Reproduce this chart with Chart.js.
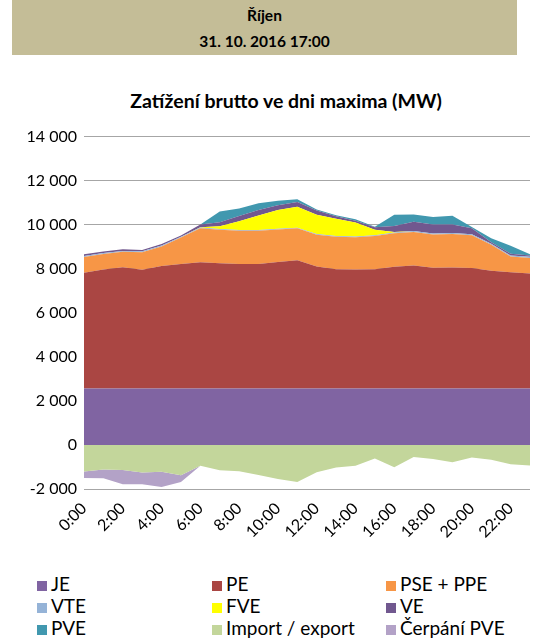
<!DOCTYPE html>
<html lang="cs">
<head>
<meta charset="utf-8">
<title>Zatížení brutto</title>
<script src="https://cdn.jsdelivr.net/npm/chart.js@4.4.0/dist/chart.umd.min.js"></script>
<style>
  body { margin: 0; width: 549px; height: 642px; background: #fff; font-family: Lato, 'Noto Sans', sans-serif; color: #000; position: relative; overflow: hidden; }
  .head { position: absolute; left: 12px; top: 0; width: 505px; height: 55px; background: #c4bd97; text-align: center; font-weight: bold; font-size: 15.5px; }
  .head div { height: 26px; line-height: 31px; }
  .title { position: absolute; left: 36px; width: 500px; top: 89px; text-align: center; font-weight: bold; font-size: 19.5px; }
  .wrap { position: absolute; left: 0; top: 120px; width: 549px; height: 420px; }
  .legend { position: absolute; left: 0; top: 573px; width: 549px; font-size: 19px; }
  .legend span.item { position: absolute; white-space: nowrap; line-height: 22px; }
  .legend i { display: inline-block; width: 10px; height: 10px; margin-right: 4px; vertical-align: 0px; }
</style>
</head>
<body>
<div class="head"><div>Říjen</div><div>31. 10. 2016 17:00</div></div>
<div class="title">Zatížení brutto ve dni maxima (MW)</div>
<div class="wrap"><canvas id="chart"></canvas></div>
<div class="legend" id="legend"></div>
<script>
const hours = ['0:00', '1:00', '2:00', '3:00', '4:00', '5:00', '6:00', '7:00', '8:00', '9:00', '10:00', '11:00',
  '12:00', '13:00', '14:00', '15:00', '16:00', '17:00', '18:00', '19:00', '20:00', '21:00', '22:00', '23:00'];

// MW per hour
const je = [2560, 2560, 2560, 2560, 2560, 2560, 2560, 2560, 2560, 2560, 2560, 2560,
  2560, 2560, 2560, 2560, 2560, 2560, 2560, 2560, 2560, 2560, 2560, 2560];
const pe = [5260, 5410, 5510, 5400, 5560, 5650, 5740, 5690, 5650, 5660, 5750, 5830,
  5540, 5420, 5410, 5420, 5530, 5590, 5490, 5500, 5470, 5350, 5280, 5230];
const pse = [715, 700, 700, 790, 895, 1205, 1535, 1520, 1520, 1505, 1475, 1445,
  1445, 1475, 1460, 1505, 1520, 1520, 1505, 1520, 1490, 1175, 715, 700];
const vte = [45, 45, 40, 40, 40, 35, 35, 35, 30, 30, 30, 30,
  30, 30, 35, 35, 35, 40, 40, 40, 45, 45, 45, 50];
const fve = [0, 0, 0, 0, 0, 0, 10, 120, 400, 660, 850, 950,
  880, 780, 630, 250, 20, 0, 0, 0, 0, 0, 0, 0];
const ve = [80, 65, 80, 65, 65, 65, 130, 190, 240, 250, 220, 220,
  190, 120, 80, 110, 280, 420, 410, 390, 270, 70, 80, 65];
const pve = [0, 0, 0, 0, 0, 0, 0, 480, 330, 310, 200, 120,
  45, 45, 70, 30, 510, 330, 340, 400, 60, 180, 360, 50];
const importExport = [-1200, -1110, -1140, -1250, -1220, -1380, -950, -1150, -1190, -1360, -1550, -1680,
  -1240, -1020, -950, -610, -1010, -550, -640, -790, -570, -670, -880, -930];
const cerpaniPve = [-300, -400, -650, -540, -690, -300, 0, 0, 0, 0, 0, 0,
  0, 0, 0, 0, 0, 0, 0, 0, 0, 0, 0, 0];

const yTicks = [-2000, 0, 2000, 4000, 6000, 8000, 10000, 12000, 14000];

const area = (label, data, color, fill, stack) => ({
  label, data, fill, stack,
  backgroundColor: color,
  borderColor: color,
  borderWidth: 0,
  pointRadius: 0,
  pointHoverRadius: 0,
  tension: 0
});

// positive sources stack upwards, export and pumping stack below zero
const datasets = [
  area('JE', je, '#8064a2', 'origin', 'plus'),
  area('PE', pe, '#aa4643', '-1', 'plus'),
  area('PSE + PPE', pse, '#f79646', '-1', 'plus'),
  area('VTE', vte, '#95b3d7', '-1', 'plus'),
  area('FVE', fve, '#ffff00', '-1', 'plus'),
  area('VE', ve, '#71588f', '-1', 'plus'),
  area('PVE', pve, '#4198af', '-1', 'plus'),
  area('Import / export', importExport, '#c3d69b', 'origin', 'minus'),
  area('Čerpání PVE', cerpaniPve, '#b3a2c7', '-1', 'minus')
];

const fmt = v => (v < 0 ? '-' : '') + String(Math.abs(v)).replace(/\B(?=(\d{3})+(?!\d))/g, ' ');
const font = { family: "Lato, 'Noto Sans', sans-serif", size: 16 };

new Chart(document.getElementById('chart'), {
  type: 'line',
  data: { labels: hours, datasets },
  options: {
    responsive: true,
    maintainAspectRatio: false,
    animation: false,
    layout: { padding: { top: 14, right: 19, left: 0, bottom: 0 } },
    plugins: { legend: { display: false }, tooltip: { enabled: false }, title: { display: false } },
    scales: {
      x: {
        grid: { display: false },
        border: { display: false },
        ticks: {
          autoSkip: false,
          minRotation: 45,
          maxRotation: 45,
          color: '#000',
          font,
          padding: 2,
          callback: (v, i) => (i % 2 === 0 ? hours[i] : '')
        },
        afterFit: s => { s.height = 51; }
      },
      y: {
        stacked: true,
        min: -2000,
        max: 14000,
        grid: { color: '#a6a6a6', lineWidth: 1, drawTicks: false },
        border: { display: false },
        afterBuildTicks: s => { s.ticks = yTicks.map(v => ({ value: v })); },
        ticks: { color: '#000', font, padding: 7, callback: v => fmt(v) },
        afterFit: s => { s.width = 84; }
      }
    }
  }
});

// legend in three columns
const cols = [37, 212, 386];
const legend = document.getElementById('legend');
datasets.forEach((d, i) => {
  const item = document.createElement('span');
  item.className = 'item';
  item.style.left = cols[i % 3] + 'px';
  item.style.top = (Math.floor(i / 3) * 22) + 'px';
  item.innerHTML = '<i style="background:' + d.backgroundColor + '"></i>' + d.label;
  legend.appendChild(item);
});
</script>
</body>
</html>
